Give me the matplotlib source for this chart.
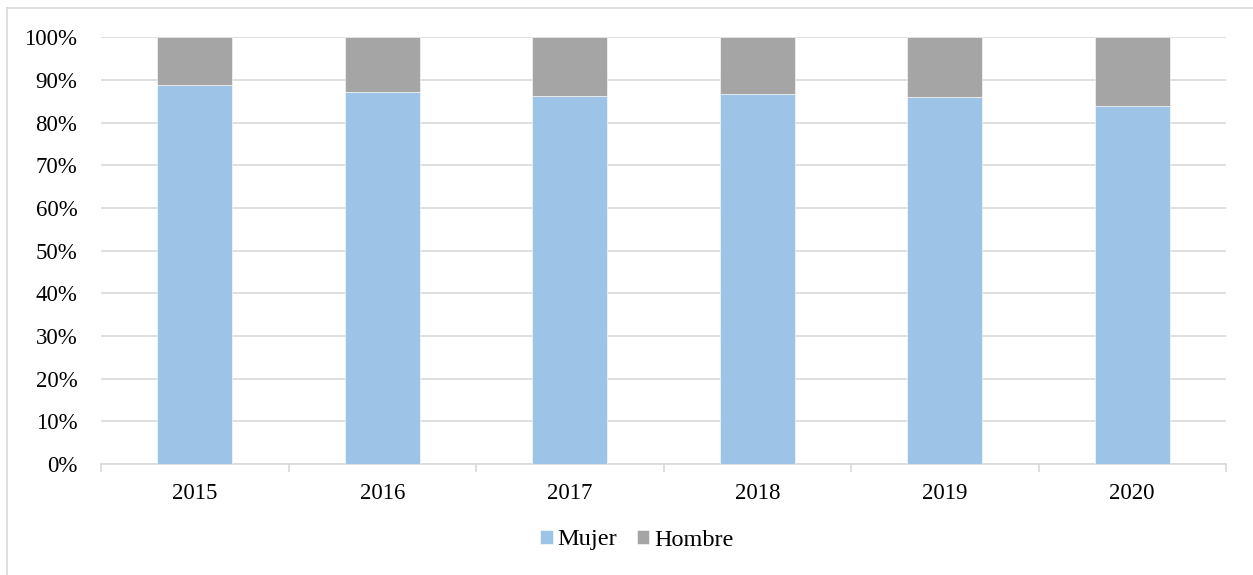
import matplotlib
matplotlib.use("Agg")
import matplotlib.pyplot as plt
from matplotlib.lines import Line2D
from matplotlib.ticker import FixedLocator, NullFormatter
import numpy as np

years = ["2015", "2016", "2017", "2018", "2019", "2020"]
mujer = [88.8, 87.1, 86.2, 86.6, 86.0, 83.8]
hombre = [100 - m for m in mujer]
yticks = [0, 10, 20, 30, 40, 50, 60, 70, 80, 90, 100]

plt.rcParams['font.family'] = ['Liberation Serif', 'DejaVu Serif']

W, H = 1253, 575
fig = plt.figure(figsize=(W / 100, H / 100), dpi=100)
left, right, top, bottom = 101, 1226, 37.3, 464
ax = fig.add_axes([left / W, 1 - bottom / H, (right - left) / W, (bottom - top) / H])

x = np.arange(len(years))
c_m = "#9DC3E6"
c_h = "#A5A5A5"
ax.bar(x, mujer, width=0.4, color=c_m, edgecolor="white", linewidth=0.4, label="Mujer", zorder=3)
ax.bar(x, hombre, bottom=mujer, width=0.4, color=c_h, edgecolor="white", linewidth=0.4, label="Hombre", zorder=3)

fs = 16.5
ax.set_xlim(-0.5, len(years) - 0.5)
ax.set_ylim(0, 100)
ax.set_yticks(yticks)
ax.set_yticklabels([f"{v}%" for v in yticks], fontsize=fs)
ax.yaxis.grid(True, color="#D9D9D9", linewidth=1.2, zorder=0)
ax.tick_params(axis="y", length=0, pad=17)

ax.set_xticks(x)
ax.set_xticklabels(years, fontsize=fs)
ax.tick_params(axis="x", which="major", length=0, pad=14)
ax.xaxis.set_minor_locator(FixedLocator(np.arange(-0.5, len(years), 1.0)))
ax.xaxis.set_minor_formatter(NullFormatter())
ax.tick_params(axis="x", which="minor", length=6, color="#D9D9D9", width=1.2)

for s in ["left", "right", "top"]:
    ax.spines[s].set_visible(False)
ax.spines["bottom"].set_color("#D9D9D9")
ax.spines["bottom"].set_linewidth(1.2)

lfs = 17.5
leg = fig.legend(loc="center", bbox_to_anchor=(637 / W, 1 - 540 / H), ncol=2, frameon=False,
                 fontsize=lfs, handlelength=0.52, handleheight=0.52, handletextpad=0.2,
                 columnspacing=0.8, borderpad=0)

# outer chart border (top and left visible)
fig.add_artist(Line2D([6.5 / W, 6.5 / W], [0, 1 - 8 / H], transform=fig.transFigure,
                      color="#D9D9D9", linewidth=1.2))
fig.add_artist(Line2D([6.5 / W, 1], [1 - 8 / H, 1 - 8 / H], transform=fig.transFigure,
                      color="#D9D9D9", linewidth=1.2))

fig.savefig("out.png", dpi=100)
